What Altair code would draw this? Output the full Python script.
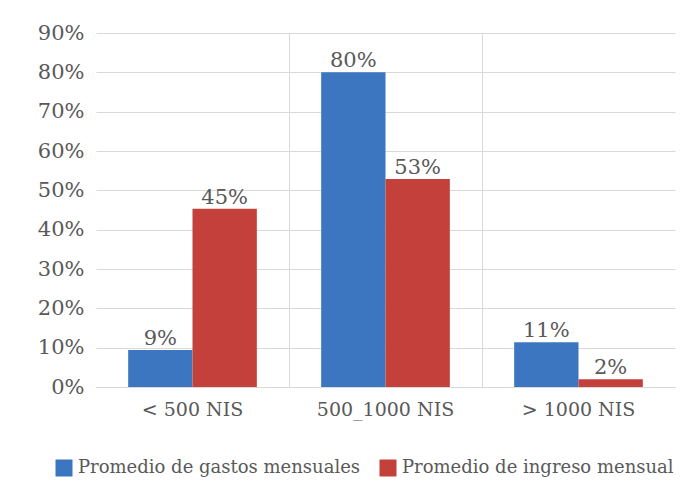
import altair as alt
import pandas as pd

categories = ["< 500 NIS", "500_1000 NIS", "> 1000 NIS"]
series = ["Promedio de gastos mensuales", "Promedio de ingreso mensual"]
gastos = [0.094, 0.80, 0.114]
ingreso = [0.453, 0.529, 0.02]
colors = ["#3c76c1", "#c4403b"]

rows = []
for c, g, i in zip(categories, gastos, ingreso):
    rows.append({"cat": c, "serie": series[0], "val": g})
    rows.append({"cat": c, "serie": series[1], "val": i})
df = pd.DataFrame(rows)

FONT = "'DejaVu Serif', serif"
TXT = "#595959"
GRID = "#d9d9d9"

x_enc = alt.X(
    "cat:N", sort=categories,
    scale=alt.Scale(paddingInner=0, paddingOuter=0),
    axis=alt.Axis(
        title=None, labelAngle=0, grid=True, bandPosition=0,
        gridColor=alt.condition("datum.value === '< 500 NIS'", alt.value("transparent"), alt.value(GRID)),
        ticks=False, domain=True, domainColor=GRID,
        labelFontSize=19, labelPadding=13, labelColor=TXT, labelFont=FONT,
    ),
)
xo_enc = alt.XOffset("serie:N", sort=series, scale=alt.Scale(paddingInner=0, paddingOuter=0.5))
y_enc = alt.Y(
    "val:Q", scale=alt.Scale(domain=[0, 0.9], nice=False),
    axis=alt.Axis(
        title=None, values=[i / 10 for i in range(10)], format=".0%",
        gridColor=GRID, domain=False, ticks=False,
        labelFontSize=21, labelPadding=12, labelColor=TXT, labelFont=FONT,
    ),
)

bars = alt.Chart(df).mark_bar().encode(
    x=x_enc, xOffset=xo_enc, y=y_enc,
    color=alt.Color(
        "serie:N", sort=series,
        scale=alt.Scale(domain=series, range=colors),
        legend=alt.Legend(
            title=None, orient="none", direction="horizontal",
            legendX=-41, legendY=426,
            symbolType="square", symbolSize=289, symbolStrokeWidth=0,
            symbolOpacity=1,
            labelFontSize=18, labelColor=TXT, labelFont=FONT,
            columnPadding=18, labelOffset=5, labelLimit=400,
        ),
    ),
)

labels = alt.Chart(df).mark_text(
    baseline="bottom", dy=-1, fontSize=21, font=FONT, color=TXT
).encode(
    x=x_enc, xOffset=xo_enc, y=y_enc,
    text=alt.Text("val:Q", format=".0%"),
)

chart = (bars + labels).properties(
    width=579, height=354,
    autosize=alt.AutoSizeParams(type="none"),
    padding={"left": 88, "top": 25, "right": 6, "bottom": 100},
    background="white",
).configure_view(stroke=None)

chart.save("out.html", embed_options={"renderer": "svg", "actions": False})
